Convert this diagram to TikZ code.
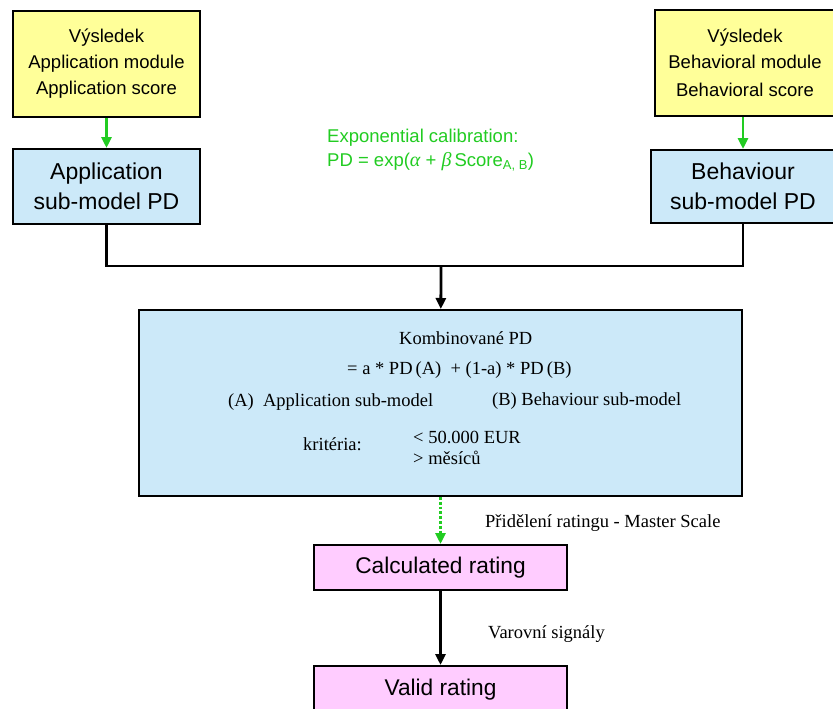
\documentclass[tikz,border=0pt]{standalone}
\usepackage{fontspec}
\setmainfont{Liberation Serif}
\setsansfont{Liberation Sans}
\usepackage{xcolor}
\usepackage{tikz}
\usetikzlibrary{positioning,arrows.meta,calc}

\definecolor{resgreen}{HTML}{22CC22}
\definecolor{resyellow}{HTML}{FFFF99}
\definecolor{resblue}{HTML}{CCE9F9}
\definecolor{respink}{HTML}{FFCCFF}

\newcommand{\grk}[1]{{\rmfamily\itshape\fontsize{20}{24}\selectfont #1}}

\begin{document}
\begin{tikzpicture}[
  x=1pt, y=-1pt, >={Triangle[length=11pt,width=10pt]},
  result/.style={draw, line width=2pt, fill=resyellow, font=\sffamily\fontsize{18.5}{26}\selectfont, align=center, inner sep=0pt},
  submodel/.style={draw, line width=2pt, fill=resblue, font=\sffamily\fontsize{23}{30}\selectfont, align=center, inner sep=0pt},
  rating/.style={draw, line width=2pt, fill=respink, font=\sffamily\fontsize{22.7}{26}\selectfont, minimum width=253pt, inner sep=0pt},
  combo/.style={draw, line width=2pt, fill=resblue, minimum width=603pt, minimum height=186pt},
  txt/.style={font=\fontsize{18.5}{21}\selectfont, inner sep=0pt, anchor=west, align=left},
  arr/.style={->, line width=2.8pt},
  garr/.style={->, line width=2.8pt, color=resgreen},
]
\useasboundingbox[fill=white] (0,0) rectangle (833,709);

% input modules
\node[result, minimum width=187pt, minimum height=106pt] (appres) at (106.5,64)
  {V\'ysledek\\Application module\\Application score};
\node[result, minimum width=180pt, minimum height=106pt] (behres) at (745,63)
  {V\'ysledek\\Behavioral module\\[2pt]Behavioral score};
\node[submodel, minimum width=187pt, minimum height=75pt] (apppd) at (106.5,186.5)
  {Application\\sub-model PD};
\node[submodel, minimum width=184pt, minimum height=73pt] (behpd) at (743,186.5)
  {Behaviour\\sub-model PD};

\node[txt, text=resgreen, font=\sffamily\fontsize{18.5}{24}\selectfont] (calib) at (327,150)
  {Exponential calibration:\\PD = exp(\grk{α} + \grk{β}\,Score\textsubscript{A, B})};

% combined PD
\node[combo] (kombi) at (440.5,403) {};
\node[txt] (kombititle) at (399,338) {Kombinovan\'e PD};
\node[txt] (formula) at (347,370) {= a * PD\,(A)\ \ + (1-a) * PD\,(B)};
\node[txt] (parta) at (228,402) {(A)\ \ Application sub-model};
\node[txt] (partb) at (492,401) {(B) Behaviour sub-model};
\node[txt] (krit) at (303,444) {krit\'eria:};
\node[txt] (kritval) at (413,448) {< 50.000 EUR\\> m\v es\'ic\r u};

% ratings
\node[rating, minimum height=45pt] (calc) at (440.5,567.5) {Calculated rating};
\node[rating, minimum height=48pt] (valid) at (440.5,690) {Valid rating};
\node[txt] (master) at (485,523) {P\v rid\v elen\'i ratingu - Master Scale};
\node[txt] (signal) at (488,634) {Varovn\'i sign\'aly};

\coordinate (join) at (441,266);

\draw[garr] (appres) -- (apppd);
\draw[garr] (behres.south -| behpd) -- (behpd);
\draw[line width=2.8pt] (apppd) |- (join) -| (behpd);
\draw[arr] (join) -- (kombi);
\draw[garr, dotted] (kombi.south) -- (calc);
\draw[arr] (calc) -- (valid);
\end{tikzpicture}
\end{document}
